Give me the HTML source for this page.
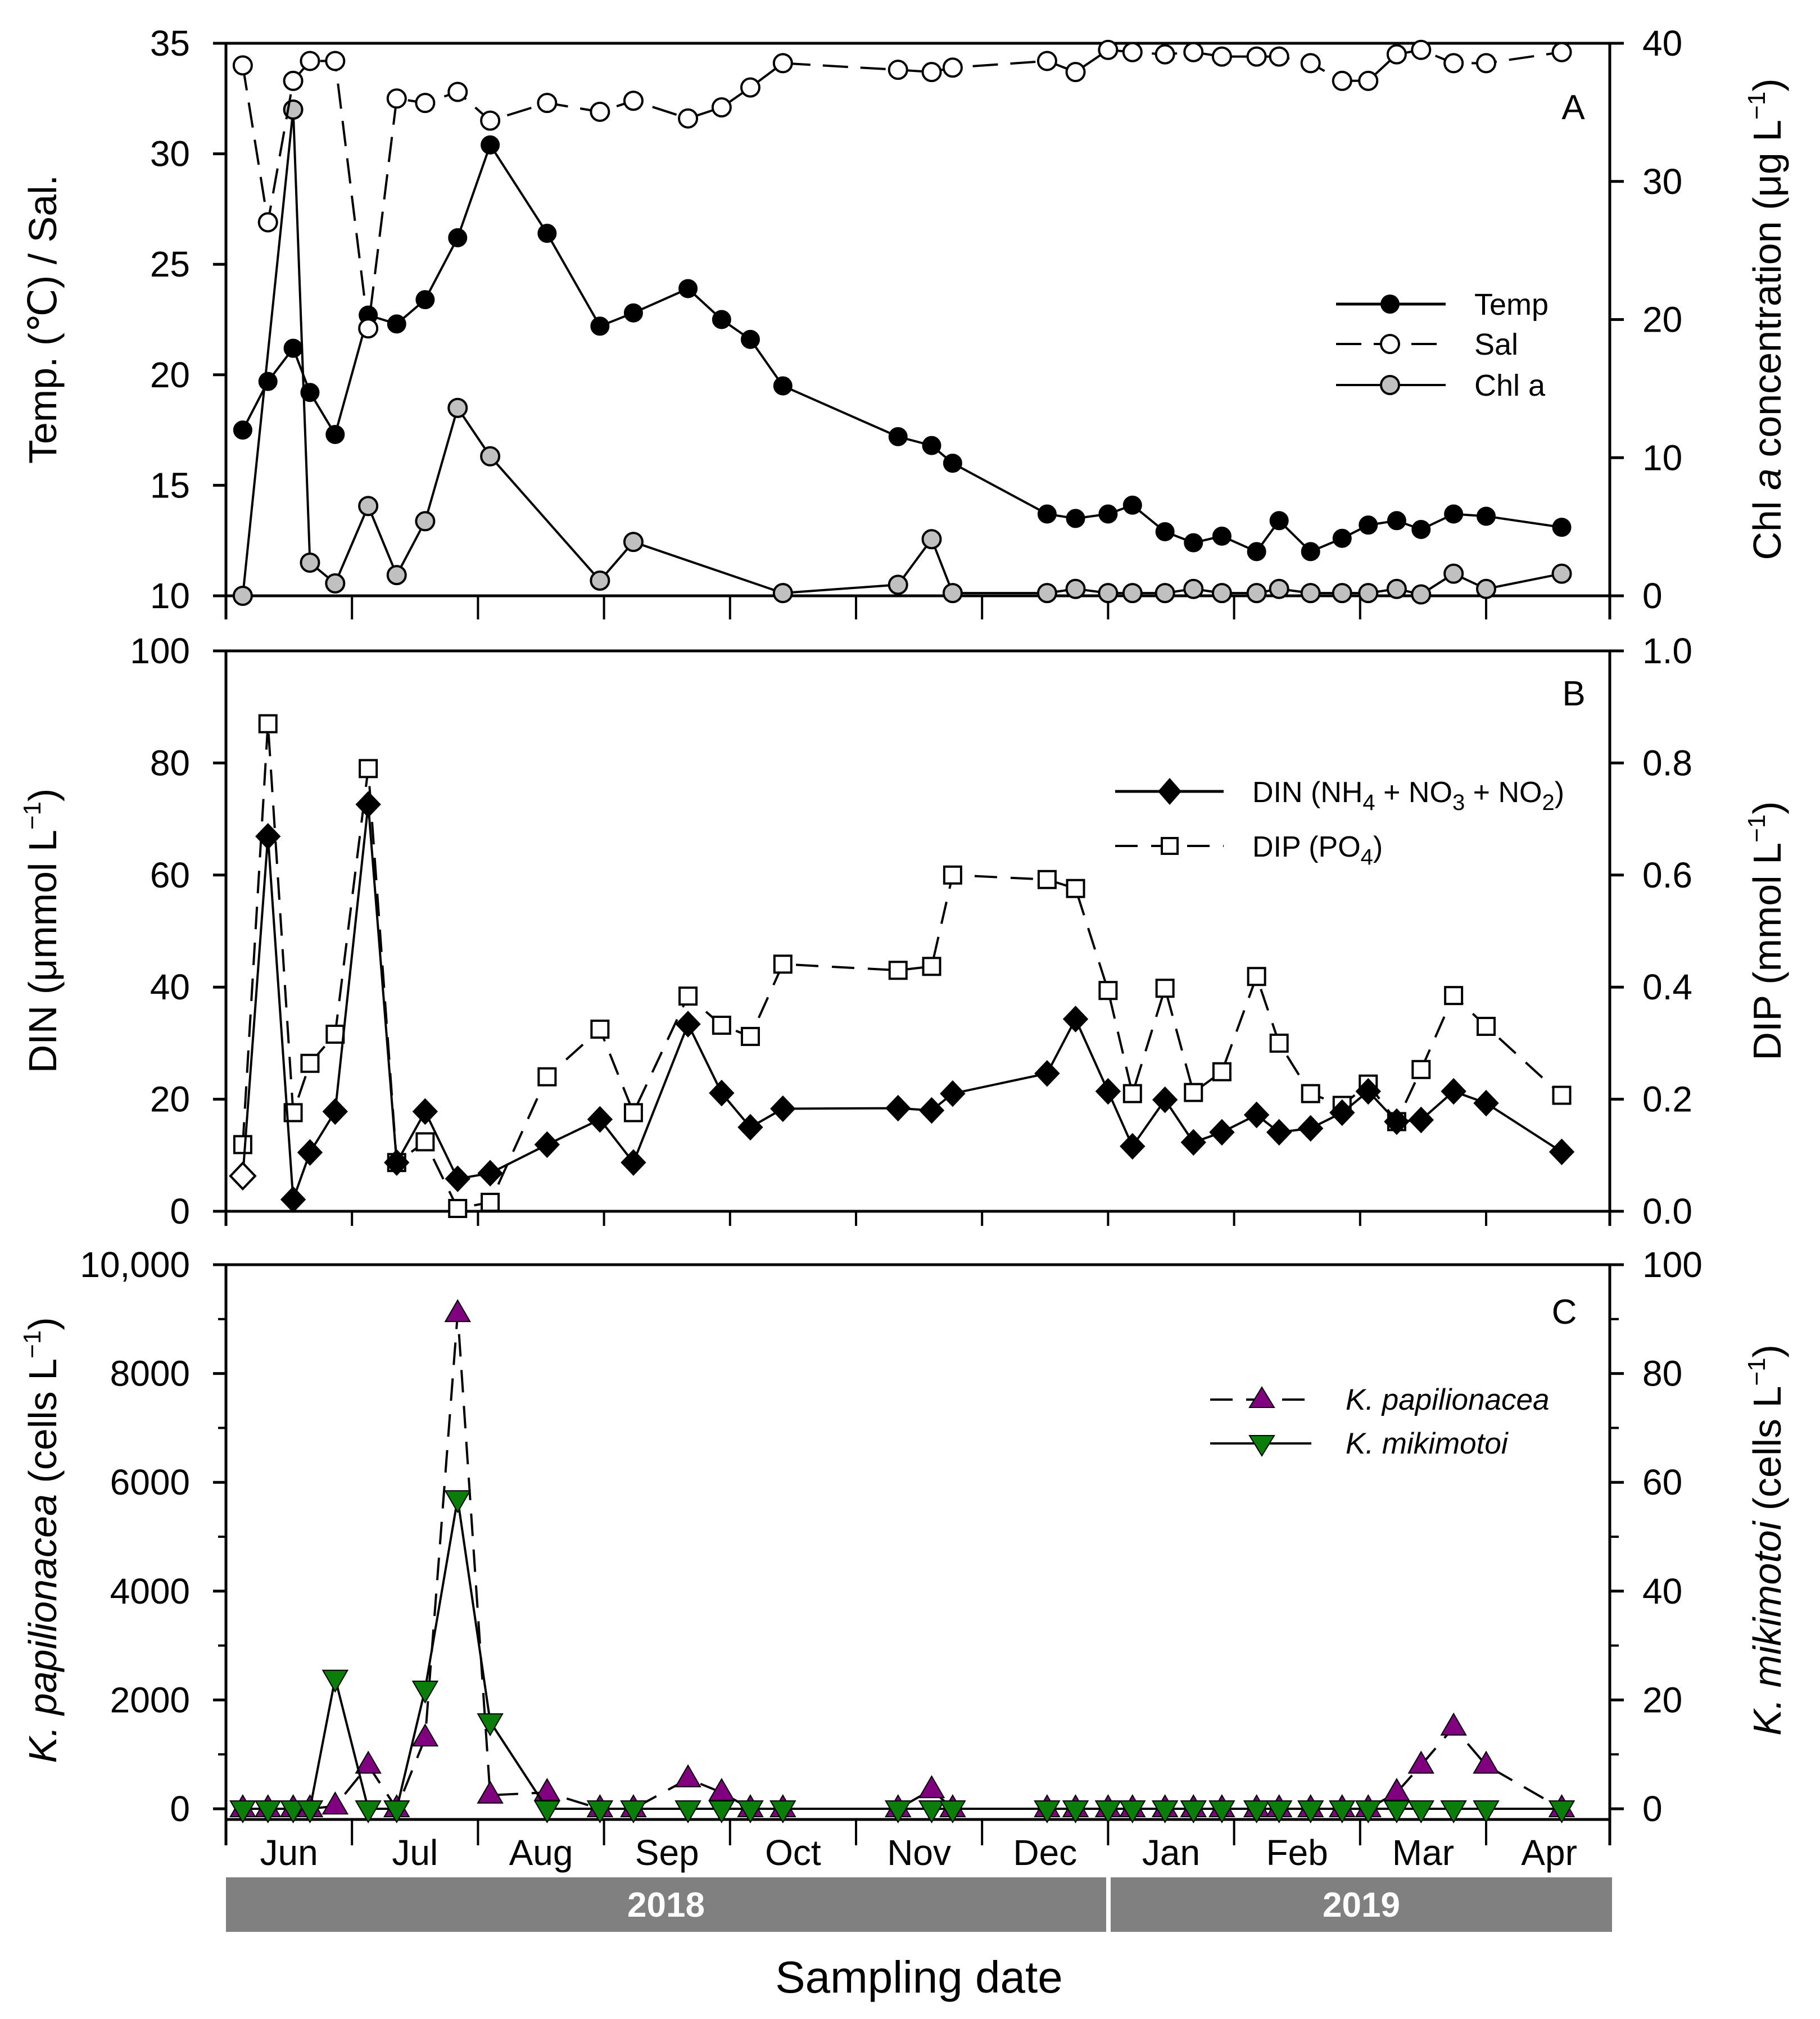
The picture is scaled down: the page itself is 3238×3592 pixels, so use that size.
<!DOCTYPE html>
<html><head><meta charset="utf-8">
<style>
html,body{margin:0;padding:0;background:#fff;}
svg{display:block;font-family:"Liberation Sans",Arial,sans-serif;}
</style></head>
<body>
<svg id="fig" xmlns="http://www.w3.org/2000/svg" width="3238" height="3592" viewBox="0 0 3238 3592">
<rect x="0" y="0" width="3238" height="3592" fill="#fff"/>
<g id="frames"></g>
<g id="marks"></g>
<g id="labels">
  <text x="2799" y="212" font-size="62" text-anchor="middle">A</text>
  <text x="2800" y="1255" font-size="62" text-anchor="middle">B</text>
  <text x="2783" y="2355" font-size="62" text-anchor="middle">C</text>

  <text transform="translate(100,568) rotate(-90)" font-size="70" text-anchor="middle">Temp. (℃) / Sal.</text>
  <text transform="translate(3168,568) rotate(-90)" font-size="70" text-anchor="middle">Chl <tspan font-style="italic">a</tspan> concentration (μg L<tspan dy="-28" font-size="44">−1</tspan><tspan dy="28">)</tspan></text>
  <text transform="translate(100,1656) rotate(-90)" font-size="70" text-anchor="middle">DIN (μmmol L<tspan dy="-28" font-size="44">−1</tspan><tspan dy="28">)</tspan></text>
  <text transform="translate(3168,1656) rotate(-90)" font-size="70" text-anchor="middle">DIP (mmol L<tspan dy="-28" font-size="44">−1</tspan><tspan dy="28">)</tspan></text>
  <text transform="translate(100,2740) rotate(-90)" font-size="70" text-anchor="middle"><tspan font-style="italic">K. papilionacea</tspan> (cells L<tspan dy="-28" font-size="44">−1</tspan><tspan dy="28">)</tspan></text>
  <text transform="translate(3168,2740) rotate(-90)" font-size="70" text-anchor="middle"><tspan font-style="italic">K. mikimotoi</tspan> (cells L<tspan dy="-28" font-size="44">−1</tspan><tspan dy="28">)</tspan></text>
  <text x="1635" y="3545" font-size="80" text-anchor="middle">Sampling date</text>

  <rect x="402" y="3340" width="1566" height="97" fill="#808080"/>
  <rect x="1976" y="3340" width="892" height="97" fill="#808080"/>
  <text x="1185" y="3410" font-size="62" font-weight="bold" fill="#fff" text-anchor="middle">2018</text>
  <text x="2422" y="3410" font-size="62" font-weight="bold" fill="#fff" text-anchor="middle">2019</text>

  <g>
    <line x1="2377" y1="541" x2="2572" y2="541" stroke="#000" stroke-width="5"/>
    <circle cx="2473" cy="541" r="17" fill="#000"/>
    <text x="2623" y="560" font-size="54">Temp</text>
    <line x1="2377" y1="612" x2="2572" y2="612" stroke="#000" stroke-width="4" stroke-dasharray="45,22"/>
    <circle cx="2473" cy="612" r="16" fill="#fff" stroke="#000" stroke-width="4"/>
    <text x="2623" y="631" font-size="54">Sal</text>
    <line x1="2377" y1="685" x2="2572" y2="685" stroke="#000" stroke-width="4"/>
    <circle cx="2473" cy="685" r="16" fill="#c0c0c0" stroke="#000" stroke-width="4"/>
    <text x="2623" y="704" font-size="54">Chl a</text>
  </g>
  <g>
    <line x1="1984" y1="1408" x2="2177" y2="1408" stroke="#000" stroke-width="5"/>
    <polygon points="2081,1384 2102,1408 2081,1432 2060,1408" fill="#000"/>
    <text x="2228" y="1427" font-size="52">DIN (NH<tspan dy="14" font-size="40">4</tspan><tspan dy="-14"> + NO</tspan><tspan dy="14" font-size="40">3</tspan><tspan dy="-14"> + NO</tspan><tspan dy="14" font-size="40">2</tspan><tspan dy="-14">)</tspan></text>
    <line x1="1984" y1="1505" x2="2177" y2="1505" stroke="#000" stroke-width="4" stroke-dasharray="40,24"/>
    <rect x="2067" y="1491" width="28" height="28" fill="#fff" stroke="#000" stroke-width="4"/>
    <text x="2228" y="1524" font-size="52">DIP (PO<tspan dy="14" font-size="40">4</tspan><tspan dy="-14">)</tspan></text>
  </g>
  <g>
    <line x1="2153" y1="2490" x2="2333" y2="2490" stroke="#000" stroke-width="4" stroke-dasharray="40,24"/>
    <polygon points="2245,2468 2267,2504 2223,2504" fill="#800080" stroke="#000" stroke-width="2"/>
    <text x="2394" y="2508" font-size="53" font-style="italic">K. papilionacea</text>
    <line x1="2153" y1="2568" x2="2333" y2="2568" stroke="#000" stroke-width="4"/>
    <polygon points="2223,2554 2267,2554 2245,2590" fill="#0a7d0a" stroke="#000" stroke-width="2"/>
    <text x="2394" y="2586" font-size="53" font-style="italic">K. mikimotoi</text>
  </g>
</g>
<script>
const sampleDates = ["2018-06-05","2018-06-11","2018-06-17","2018-06-21","2018-06-27","2018-07-05","2018-07-12","2018-07-19","2018-07-27","2018-08-04","2018-08-18","2018-08-31","2018-09-08","2018-09-21","2018-09-29","2018-10-06","2018-10-14","2018-11-11","2018-11-19","2018-11-24","2018-12-17","2018-12-24","2019-01-01","2019-01-07","2019-01-15","2019-01-22","2019-01-29","2019-02-06","2019-02-11","2019-02-18","2019-02-25","2019-03-03","2019-03-10","2019-03-16","2019-03-24","2019-04-01","2019-04-19"];
const tempValues = [17.5,19.7,21.2,19.2,17.3,22.7,22.3,23.4,26.2,30.4,26.4,22.2,22.8,23.9,22.5,21.6,19.5,17.2,16.8,16.0,13.7,13.5,13.7,14.1,12.9,12.4,12.7,12.0,13.4,12.0,12.6,13.2,13.4,13.0,13.7,13.6,13.1];
const salValues = [34.0,26.9,33.3,34.2,34.2,22.1,32.5,32.3,32.8,31.5,32.3,31.9,32.4,31.6,32.1,33.0,34.1,33.8,33.7,33.9,34.2,33.7,34.7,34.6,34.5,34.6,34.4,34.4,34.4,34.1,33.3,33.3,34.5,34.7,34.1,34.1,34.6];
const chlValues = [0,null,35.2,2.4,0.9,6.5,1.5,5.4,13.6,10.1,null,1.1,3.9,null,null,null,0.2,0.8,4.1,0.2,0.2,0.5,0.2,0.2,0.2,0.5,0.2,0.2,0.5,0.2,0.2,0.2,0.5,0.1,1.6,0.5,1.6];
const dinValues = [6.3,66.9,2.1,10.5,17.8,72.6,8.7,17.8,5.8,6.8,11.9,16.4,8.7,33.4,21.1,15.0,18.3,18.4,18.0,21.0,24.6,34.3,21.4,11.6,19.9,12.3,14.1,17.2,14.1,14.8,17.6,21.4,16.0,16.3,21.4,19.3,10.6];
const dipValues = [0.119,0.87,0.176,0.264,0.316,0.79,0.087,0.124,0.005,0.016,0.24,0.325,0.176,0.384,0.332,0.312,0.441,0.43,0.437,0.60,0.592,0.576,0.394,0.21,0.398,0.212,0.249,0.419,0.30,0.21,0.189,0.227,0.16,0.253,0.385,0.33,0.207];
const kpapValues = [0,0,0,0,50,800,0,1300,9100,250,300,0,0,550,300,0,0,0,350,0,0,0,0,0,0,0,0,0,0,0,0,0,300,800,1500,800,0];
const kmikValues = [0,0,0,0,24,0,0,22,57,16,0,0,0,0,0,0,0,0,0,0,0,0,0,0,0,0,0,0,0,0,0,0,0,0,0,0,0];
const monthLabels = ["Jun","Jul","Aug","Sep","Oct","Nov","Dec","Jan","Feb","Mar","Apr"];
const tickA_left = [10,15,20,25,30,35];
const tickA_right = [0,10,20,30,40];
const tickB_left = [0,20,40,60,80,100];
const tickB_right = [0.0,0.2,0.4,0.6,0.8,1.0];
const tickC_left = [0,2000,4000,6000,8000,10000];
const tickC_right = [0,20,40,60,80,100];

const NS="http://www.w3.org/2000/svg";
const XL=402, XR=2864, MW=224.2;
function xOf(ds){const p=ds.split("-").map(Number);const y=p[0],mo=p[1],d=p[2];
  const idx=(y-2018)*12+(mo-1)-5;const dim=new Date(y,mo,0).getDate();return XL+(idx+(d-1)/dim)*MW;}
const P={
 A:{top:77,bot:1060,ext:1102,yL:v=>77+(35-v)*39.32,yR:v=>1060-v*24.575},
 B:{top:1158,bot:2155,ext:2181,yL:v=>2155-v*9.97,yR:v=>2155-v*997},
 C:{top:2250,bot:3237,ext:3283,yL:v=>3218-v*0.0968,yR:v=>3218-v*9.68}
};
function mk(tag,attrs,parent){const e=document.createElementNS(NS,tag);for(const k in attrs)e.setAttribute(k,attrs[k]);parent.appendChild(e);return e;}
const fr=document.getElementById("frames"), mg=document.getElementById("marks");
const fmtC=v=>v===10000?"10,000":String(v);
function axes(key,tl,tr,fl,frr,minorL,minorR){
  const p=P[key];
  const g=mk("g",{},fr);
  
  
  mk("line",{x1:379,y1:p.top,x2:2889,y2:p.top,stroke:"#000","stroke-width":5},g);
  mk("line",{x1:XL,y1:p.bot,x2:XR,y2:p.bot,stroke:"#000","stroke-width":5},g);
  mk("line",{x1:XL,y1:p.top,x2:XL,y2:p.ext,stroke:"#000","stroke-width":5},g);
  mk("line",{x1:XR,y1:p.top,x2:XR,y2:p.ext,stroke:"#000","stroke-width":5},g);
  for(let i=1;i<11;i++){const x=XL+i*MW;mk("line",{x1:x,y1:p.bot,x2:x,y2:p.ext,stroke:"#000","stroke-width":4},g);}
  tl.forEach(v=>{const y=p.yL(v);mk("line",{x1:379,y1:y,x2:XL,y2:y,stroke:"#000","stroke-width":5},g);
    const t=mk("text",{x:338,y:y+22,"font-size":64,"text-anchor":"end"},g);t.textContent=fl(v);
    
    });
  tr.forEach(v=>{const y=p.yR(v);mk("line",{x1:XR,y1:y,x2:2889,y2:y,stroke:"#000","stroke-width":5},g);
    const t=mk("text",{x:2922,y:y+22,"font-size":64},g);t.textContent=frr(v);
    
    });
  if(minorL) minorL.forEach(v=>{const y=p.yL(v);mk("line",{x1:388,y1:y,x2:XL,y2:y,stroke:"#000","stroke-width":4},g);});
  if(minorR) minorR.forEach(v=>{const y=p.yR(v);mk("line",{x1:XR,y1:y,x2:2880,y2:y,stroke:"#000","stroke-width":4},g);});
}
axes("A",tickA_left,tickA_right,String,String);
axes("B",tickB_left,tickB_right,String,v=>v.toFixed(1));
axes("C",tickC_left,tickC_right,fmtC,String,[1000,3000,5000,7000,9000],[10,30,50,70,90]);
monthLabels.forEach((m,i)=>{const t=mk("text",{x:XL+(i+0.5)*MW,y:3318,"font-size":64,"text-anchor":"middle"},fr);t.textContent=m;
  
  });

function series(vals,yf,name,lineAttrs,marker){
  const g=mk("g",{},mg);
  
  
  const pts=[];vals.forEach((v,i)=>{if(v!==null)pts.push([xOf(sampleDates[i]),yf(v),i]);});
  const pl=mk("polyline",Object.assign({points:pts.map(p=>p[0].toFixed(1)+","+p[1].toFixed(1)).join(" "),fill:"none",stroke:"#000"},lineAttrs),g);
  
  
  pts.forEach(p=>{const e=marker(p[0],p[1],g,p[2]);
    
    });
}
const circ=(fill,sw)=>(x,y,g)=>mk("circle",{cx:x,cy:y,r:16,fill:fill,stroke:"#000","stroke-width":sw},g);
series(chlValues,P.A.yR,"chl-a-series",{"stroke-width":4},circ("#c0c0c0",4));
series(tempValues,P.A.yL,"temp-series",{"stroke-width":4},circ("#000",2));
series(salValues,P.A.yL,"sal-series",{"stroke-width":4,"stroke-dasharray":"45,22"},circ("#fff",4));
series(dipValues,P.B.yR,"dip-series",{"stroke-width":4,"stroke-dasharray":"40,24"},(x,y,g)=>mk("rect",{x:x-15,y:y-15,width:30,height:30,fill:"#fff",stroke:"#000","stroke-width":4},g));
series(dinValues,P.B.yL,"din-series",{"stroke-width":4},(x,y,g,i)=>mk("polygon",{points:`${x},${y-23} ${x+22},${y} ${x},${y+23} ${x-22},${y}`,fill:i===0?"#fff":"#000",stroke:"#000","stroke-width":i===0?4:1},g));
series(kpapValues,P.C.yL,"k-papilionacea-series",{"stroke-width":4,"stroke-dasharray":"40,24"},(x,y,g)=>mk("polygon",{points:`${x},${y-24} ${x+22},${y+14} ${x-22},${y+14}`,fill:"#800080",stroke:"#000","stroke-width":2},g));
series(kmikValues,P.C.yR,"k-mikimotoi-series",{"stroke-width":4},(x,y,g)=>mk("polygon",{points:`${x-22},${y-14} ${x+22},${y-14} ${x},${y+24}`,fill:"#0a7d0a",stroke:"#000","stroke-width":2},g));
</script>
</svg>
</body></html>
